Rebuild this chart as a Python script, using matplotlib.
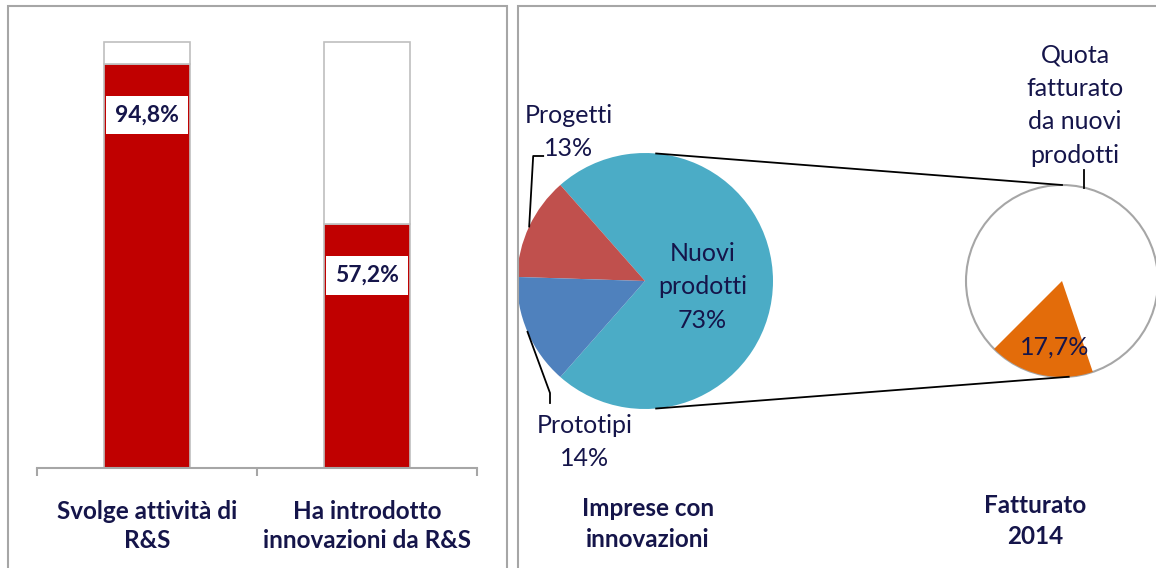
import matplotlib.pyplot as plt
import matplotlib.patches as mpatches
import numpy as np

plt.rcParams["font.family"] = ["Lato", "DejaVu Sans"]

W, H = 1156, 568
TEXT = "#15154a"
GRAY = "#A6A6A6"

# left panel: share of firms
bar_labels = ["Svolge attività di\nR&S", "Ha introdotto\ninnovazioni da R&S"]
bar_values = [94.8, 57.2]

# right panel: firms with innovations, by type
pie_labels = ["Nuovi\nprodotti", "Progetti", "Prototipi"]
pie_values = [73, 13, 14]
pie_colors = ["#4BACC6", "#C0504D", "#4F81BD"]

# 2014 turnover coming from new products
share_new = 17.7


def rect(x0, y0, x1, y1):
    # pixel box with top-left origin -> figure fraction
    return [x0 / W, 1 - y1 / H, (x1 - x0) / W, (y1 - y0) / H]


def pct(v):
    return f"{v:g}%".replace(".", ",")


fig = plt.figure(figsize=(W / 100, H / 100), dpi=100)

# panel frames
for x0, x1 in [(8, 507), (518, 1180)]:
    fig.patches.append(mpatches.Rectangle(
        (x0 / W, -0.05), (x1 - x0) / W, 1 - 6 / H + 0.05,
        transform=fig.transFigure, fill=False, edgecolor=GRAY, lw=1.5))

# ---- stacked bars ----
ax = fig.add_axes(rect(37, 42, 477, 468))
x = np.arange(len(bar_values))
vals = np.array(bar_values)
ax.bar(x, vals, width=0.39, color="#C00000", edgecolor="#BFBFBF", lw=1.2, clip_on=False)
ax.bar(x, 100 - vals, bottom=vals, width=0.39, color="white", edgecolor="#BFBFBF",
       lw=1.2, clip_on=False)
ax.set_xlim(-0.5, 1.5)
ax.set_ylim(0, 100)
for s in ["top", "left", "right"]:
    ax.spines[s].set_visible(False)
ax.spines["bottom"].set_color(GRAY)
ax.spines["bottom"].set_linewidth(1.5)
ax.set_yticks([])
ax.set_xticks([-0.5, 0.5, 1.5], ["", "", ""])
ax.tick_params(axis="x", which="major", length=6, width=1.5, color=GRAY)
ax.set_xticks(x, bar_labels, minor=True)
ax.tick_params(axis="x", which="minor", length=0, pad=23, labelsize=17.5, labelcolor=TEXT)
for lbl in ax.get_xticklabels(minor=True):
    lbl.set_fontweight("bold")
    lbl.set_linespacing(1.3)

for xi, v in zip(x, vals):
    ax.text(xi, v - 12, pct(v), ha="center", va="center", fontsize=16.5,
            fontweight="bold", color=TEXT,
            bbox=dict(boxstyle="square,pad=0.38", fc="white", ec="none"))

# ---- pie of pie ----
ax2 = fig.add_axes(rect(518, 0, 1156, 568))
c1, r1 = np.array([645, 287]), 128
c2, r2 = np.array([1062, 287]), 96

start = -pie_values[0] / 100 * 180
wedges, _ = ax2.pie(pie_values, colors=pie_colors, startangle=start, center=c1,
                    radius=r1, frame=True, wedgeprops=dict(linewidth=0))

small, _ = ax2.pie([share_new, 100 - share_new], colors=["#E36C0A", "white"],
                   startangle=225, center=c2, radius=r2, frame=True,
                   wedgeprops=dict(linewidth=0))
ax2.add_patch(mpatches.Circle(c2, r2, fill=False, ec=GRAY, lw=1.5, zorder=1.5))
small[0].set_zorder(2)

ax2.set_xlim(518, 1156)
ax2.set_ylim(0, 568)
ax2.axis("off")


def on_circle(c, r, deg):
    a = np.deg2rad(deg)
    return c + r * np.array([np.cos(a), np.sin(a)])


# connectors between the two pies
for a1, a2 in [(85, 90), (-85, -86)]:
    p, q = on_circle(c1, r1, a1), on_circle(c2, r2, a2)
    ax2.plot([p[0], q[0]], [p[1], q[1]], color="black", lw=1.3)

mid = [(w.theta1 + w.theta2) / 2 for w in wedges]
fs = 18
ls = 1.55

ax2.text(c1[0] + 0.45 * r1, 281, f"{pie_labels[0]}\n{pie_values[0]}%", ha="center",
         va="center", fontsize=fs, color=TEXT, linespacing=ls)

# Progetti leader
p = on_circle(c1, r1, mid[1])
ax2.plot([p[0], p[0] + 4, p[0] + 14], [p[1], 412, 412], color="black", lw=1.3)
ax2.text(569, 436, f"{pie_labels[1]}\n{pie_values[1]}%", ha="center", va="center",
         fontsize=fs, color=TEXT, linespacing=ls)

# Prototipi leader
p = on_circle(c1, r1, mid[2])
ax2.plot([p[0], 550, 550], [p[1], 175, 165], color="black", lw=1.3)
ax2.text(585, 126, f"{pie_labels[2]}\n{pie_values[2]}%", ha="center", va="center",
         fontsize=fs, color=TEXT, linespacing=ls)

# small pie labels
white_mid = (small[1].theta1 + small[1].theta2) / 2
p = on_circle(c2, r2, white_mid)
ax2.plot([p[0], p[0]], [p[1], 398], color="black", lw=1.3)
ax2.text(1075, 463, "Quota\nfatturato\nda nuovi\nprodotti", ha="center", va="center",
         fontsize=fs, color=TEXT, linespacing=ls)
ax2.text(1055, 221, pct(share_new), ha="center", va="center", fontsize=fs, color=TEXT)

ax2.text(648, 44, "Imprese con\ninnovazioni", ha="center", va="center", fontsize=17.5,
         fontweight="bold", color=TEXT, linespacing=1.4)
ax2.text(1035, 47, "Fatturato\n2014", ha="center", va="center", fontsize=17.5,
         fontweight="bold", color=TEXT, linespacing=1.45)

fig.savefig("out.png", dpi=100)
